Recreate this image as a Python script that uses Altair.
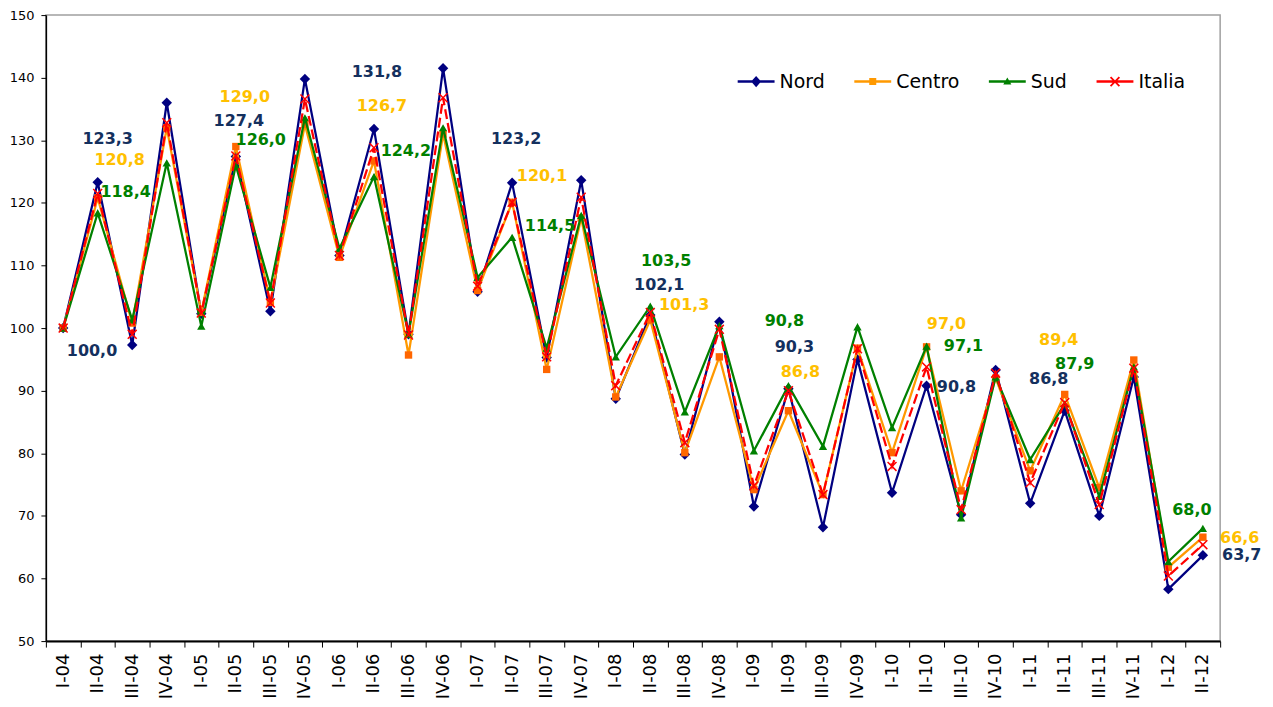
import altair as alt
import pandas as pd

# ---------------- data ----------------
quarters = ["I-04", "II-04", "III-04", "IV-04", "I-05", "II-05", "III-05", "IV-05",
            "I-06", "II-06", "III-06", "IV-06", "I-07", "II-07", "III-07", "IV-07",
            "I-08", "II-08", "III-08", "IV-08", "I-09", "II-09", "III-09", "IV-09",
            "I-10", "II-10", "III-10", "IV-10", "I-11", "II-11", "III-11", "IV-11",
            "I-12", "II-12"]

nord = [100.0, 123.3, 97.3, 136.0, 102.3, 127.4, 102.7, 139.8, 111.6, 131.8, 99.0, 141.5,
        105.8, 123.2, 95.3, 123.6, 88.7, 102.1, 79.8, 101.0, 71.5, 90.3, 68.2, 95.0,
        73.7, 90.8, 70.2, 93.3, 72.0, 86.8, 70.0, 92.2, 58.3, 63.7]

centro = [100.0, 120.8, 100.8, 132.0, 102.5, 129.0, 104.1, 132.5, 111.3, 126.7, 95.7, 131.0,
          106.0, 120.1, 93.4, 117.6, 89.0, 101.3, 80.1, 95.4, 74.2, 86.8, 73.4, 96.8,
          80.1, 97.0, 74.0, 92.0, 77.2, 89.4, 74.5, 94.9, 61.8, 66.6]

sud = [100.0, 118.4, 101.3, 126.4, 100.3, 126.0, 106.5, 133.6, 112.7, 124.2, 99.0, 132.0,
       108.1, 114.5, 96.8, 118.0, 95.4, 103.5, 86.6, 100.4, 80.4, 90.8, 81.1, 100.2,
       84.1, 97.1, 69.7, 92.2, 79.0, 87.9, 73.1, 93.8, 62.7, 68.0]

italia = [100.0, 121.5, 99.0, 132.8, 102.4, 127.5, 104.0, 136.6, 111.6, 128.8, 98.9, 136.8,
          106.7, 120.1, 95.4, 120.9, 90.8, 102.5, 81.7, 99.8, 74.8, 90.0, 73.4, 96.7,
          77.9, 93.8, 71.0, 92.8, 75.3, 88.1, 71.8, 93.6, 60.4, 65.4]

series = ["Nord", "Centro", "Sud", "Italia"]
series_values = {"Nord": nord, "Centro": centro, "Sud": sud, "Italia": italia}

# which points carry a data label
label_points = [
    ("Nord", "I-04"), ("Nord", "II-04"), ("Nord", "II-05"), ("Nord", "II-06"),
    ("Nord", "II-07"), ("Nord", "II-08"), ("Nord", "II-09"), ("Nord", "II-10"),
    ("Nord", "II-11"), ("Nord", "II-12"),
    ("Centro", "II-04"), ("Centro", "II-05"), ("Centro", "II-06"), ("Centro", "II-07"),
    ("Centro", "II-08"), ("Centro", "II-09"), ("Centro", "II-10"), ("Centro", "II-11"),
    ("Centro", "II-12"),
    ("Sud", "II-04"), ("Sud", "II-05"), ("Sud", "II-06"), ("Sud", "II-07"),
    ("Sud", "II-08"), ("Sud", "II-09"), ("Sud", "II-10"), ("Sud", "II-11"),
    ("Sud", "II-12"),
]

# ---------------- styles ----------------
label_offsets = [
    (29, 23), (10, -43), (3, -36), (3, -57), (4, -44), (9, -30), (6, -42), (30, 1), (-16, -32), (39, 0),
    (22, -38), (9, -50), (8, -55), (30, -26), (34, -15), (12, -39), (20, -23), (-6, -55), (37, 1),
    (28, -21), (25, -25), (32, -26), (38, -11), (16, -45), (-4, -65), (37, 0), (10, -40), (-11, -18),
]

line_colors = {"Nord": "#000080", "Centro": "#FF9900", "Sud": "#008000", "Italia": "#FF0000"}
marker_colors = {"Nord": "#000080", "Centro": "#FF6600", "Sud": "#008000", "Italia": "#FF0000"}
label_colors = {"Nord": "#14305E", "Centro": "#FFC000", "Sud": "#008000"}

# legend symbols: line + marker (filled paths, unit square = symbol box)
legend_paths = [
    "M-1,-0.068H1V0.068H-1Z M0,-0.3L0.27,0L0,0.3L-0.27,0Z",
    "M-1,-0.068H1V0.068H-1Z M-0.19,-0.19H0.19V0.19H-0.19Z",
    "M-1,-0.068H1V0.068H-1Z M0,-0.22L0.22,0.16H-0.22Z",
    "M-1,-0.068H1V0.068H-1Z M-0.205,-0.275L0.275,0.205L0.205,0.275L-0.275,-0.205Z "
    "M-0.275,0.205L0.205,-0.275L0.275,-0.205L-0.205,0.275Z",
]

rows = []
for s in series:
    for q, v in zip(quarters, series_values[s]):
        rows.append({"Trimestre": q, "Area": s, "Indice": v})
df = pd.DataFrame(rows)

FONT = "DejaVu Sans"

x_axis = alt.Axis(title=None, labelAngle=-90, tickBand="extent", tickSize=6, labelPadding=6,
                  labelFont=FONT, labelFontSize=18, labelColor="black",
                  domainColor="black", domainWidth=2, tickColor="black", grid=False)
y_axis = alt.Axis(title=None, values=list(range(50, 151, 10)), tickSize=5, labelPadding=7,
                  labelFont=FONT, labelFontSize=13, labelColor="black",
                  domainColor="black", domainWidth=1.5, tickColor="black", grid=False)

base = alt.Chart(df).encode(
    x=alt.X("Trimestre:N", sort=quarters, bandPosition=0.5,
            scale=alt.Scale(type="band", paddingInner=0, paddingOuter=0), axis=x_axis),
    y=alt.Y("Indice:Q", scale=alt.Scale(domain=[50, 150], nice=False, zero=False), axis=y_axis),
)

layers = []
marker_specs = {
    "Nord": dict(shape="diamond", filled=True, size=110),
    "Centro": dict(shape="square", filled=True, size=55),
    "Sud": dict(shape="triangle-up", filled=True, size=70),
    "Italia": dict(shape="M-1,-1L1,1M-1,1L1,-1", filled=False, size=80, strokeWidth=1.5),
}
for s in series:
    sub = base.transform_filter(alt.datum.Area == s)
    line_kw = dict(color=line_colors[s], strokeWidth=2.25)
    if s == "Italia":
        line_kw["strokeDash"] = [10, 4]
    layers.append(sub.mark_line(**line_kw))
    layers.append(sub.mark_point(color=marker_colors[s], opacity=1, **marker_specs[s]))

legend = alt.Legend(title=None, orient="none", legendX=694, legendY=48, direction="horizontal",
                    symbolSize=1369, symbolStrokeWidth=0, symbolOpacity=1,
                    labelFont=FONT, labelFontSize=19,
                    labelColor="black", labelOffset=5, columnPadding=29, padding=0)
legend_layer = base.mark_point(filled=True, opacity=1, size=0, strokeWidth=0).encode(
    color=alt.Color("Area:N", scale=alt.Scale(domain=series, range=[line_colors[s] for s in series]),
                    legend=legend),
    shape=alt.Shape("Area:N", scale=alt.Scale(domain=series, range=legend_paths), legend=legend),
)
layers.append(legend_layer)

for (s, q), (dx, dy) in zip(label_points, label_offsets):
    layers.append(
        base.transform_filter((alt.datum.Area == s) & (alt.datum.Trimestre == q))
        .transform_calculate(label="replace(format(datum.Indice, '.1f'), '.', ',')")
        .mark_text(dx=dx, dy=dy, font=FONT, fontWeight="bold", fontSize=16, color=label_colors[s])
        .encode(text="label:N")
    )

chart = alt.layer(*layers).properties(
    width=1178, height=628,
    autosize=alt.AutoSizeParams(type="none"),
    padding={"left": 38, "top": 6, "right": 45, "bottom": 60},
    background="white",
).configure_view(stroke="#a0a0a0", strokeWidth=1.5)

chart.save("out.html", embed_options={"renderer": "svg", "actions": False})
